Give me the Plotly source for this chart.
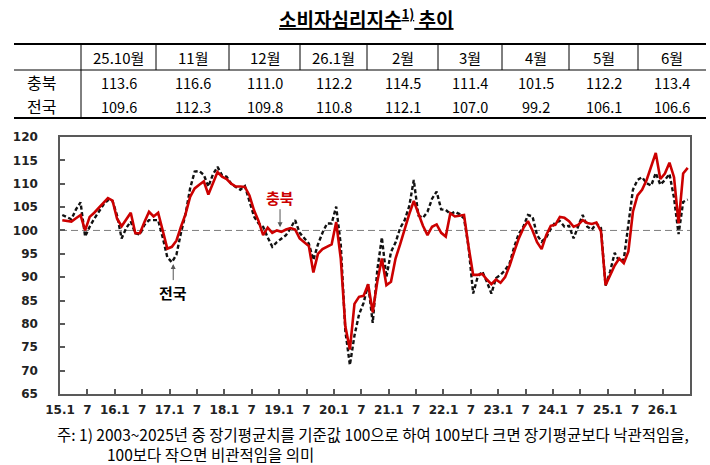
import plotly.graph_objects as go

# ---------------- data ----------------
chungbuk = [
    102.2, 102.1, 101.9, 102.6, 103.3, 100.0, 102.9, 103.8, 104.8, 106.0, 106.9, 106.4,   # 2015
    102.5, 100.9, 102.5, 103.8, 99.4, 99.4, 101.8, 104.0, 103.0, 103.8, 100.0, 96.1,      # 2016
    96.5, 97.8, 100.8, 103.5, 107.2, 109.0, 109.8, 110.5, 107.7, 110.3, 112.5, 111.5,     # 2017
    111.0, 110.0, 109.4, 109.4, 109.3, 107.5, 104.3, 102.0, 99.0, 100.6, 99.5, 100.0,     # 2018
    99.7, 100.2, 100.5, 100.2, 98.3, 97.5, 96.7, 91.0, 95.0, 96.0, 96.5, 97.0,            # 2019
    101.8, 94.0, 79.5, 74.5, 84.3, 85.8, 86.0, 88.5, 82.5, 89.0, 94.0, 88.3,              # 2020
    89.0, 94.0, 97.0, 100.3, 103.5, 106.3, 103.5, 101.0, 99.0, 100.8, 101.3, 99.5,        # 2021
    98.7, 103.7, 103.0, 103.2, 103.3, 96.5, 90.5, 90.5, 90.7, 89.5, 88.5, 89.5,           # 2022
    88.8, 90.0, 92.5, 95.5, 98.3, 100.5, 102.0, 100.0, 97.5, 96.0, 99.0, 101.0,           # 2023
    101.2, 102.9, 102.7, 102.0, 100.8, 101.2, 102.2, 101.6, 101.4, 101.7, 99.8, 88.3,     # 2024
    90.5, 92.5, 94.0, 93.0, 95.5, 104.0, 107.5, 108.7, 110.8, 113.6, 116.6, 111.0,        # 2025
    112.2, 114.5, 111.4, 101.5, 112.2, 113.4,                                             # 2026
]
national = [
    103.3, 102.8, 102.4, 104.5, 106.0, 98.7, 100.8, 102.5, 104.0, 105.5, 106.5, 106.3,    # 2015
    103.2, 98.3, 100.5, 101.9, 99.4, 99.1, 101.2, 102.2, 102.2, 102.2, 98.5, 94.3,        # 2016
    93.2, 94.8, 99.5, 103.5, 109.0, 112.6, 112.7, 111.9, 109.4, 112.0, 113.6, 111.8,      # 2017
    111.5, 110.0, 109.3, 108.7, 109.5, 106.3, 103.0, 101.5, 100.8, 98.5, 96.5, 97.5,      # 2018
    98.3, 99.0, 100.5, 102.2, 99.5, 98.4, 97.2, 93.7, 97.0, 99.5, 101.5, 101.5,           # 2019
    105.1, 97.0, 78.5, 71.2, 77.5, 82.0, 84.5, 88.5, 80.2, 91.5, 98.5, 90.0,              # 2020
    95.4, 97.4, 100.5, 102.2, 105.2, 110.8, 103.2, 102.7, 104.0, 106.8, 108.3, 104.5,     # 2021
    104.4, 103.5, 104.0, 103.5, 102.6, 96.4, 86.5, 90.1, 91.2, 89.0, 86.5, 89.8,          # 2022
    90.5, 91.5, 93.0, 96.5, 99.3, 100.8, 103.3, 103.0, 99.0, 97.6, 98.5, 100.3,           # 2023
    101.8, 102.0, 100.8, 101.0, 98.3, 100.9, 103.3, 100.8, 100.2, 101.5, 100.5, 88.2,     # 2024
    91.2, 95.2, 93.4, 93.8, 101.8, 108.7, 110.8, 111.4, 110.1, 109.6, 112.3, 109.8,       # 2025
    110.8, 112.1, 107.0, 99.2, 106.1, 106.6,                                              # 2026
]
tick_labels = ["15.1", "7", "16.1", "7", "17.1", "7", "18.1", "7", "19.1", "7", "20.1", "7",
               "21.1", "7", "22.1", "7", "23.1", "7", "24.1", "7", "25.1", "7", "26.1"]
table_months = ["25.10월", "11월", "12월", "26.1월", "2월", "3월", "4월", "5월", "6월"]
table_cb = [113.6, 116.6, 111.0, 112.2, 114.5, 111.4, 101.5, 112.2, 113.4]
table_nat = [109.6, 112.3, 109.8, 110.8, 112.1, 107.0, 99.2, 106.1, 106.6]
row_labels = ["충북", "전국"]
y_ticks = [65, 70, 75, 80, 85, 90, 95, 100, 105, 110, 115, 120]

x_idx = list(range(len(chungbuk)))
tickvals = [6 * i - 0.5 for i in range(len(tick_labels))]

# ---------------- figure ----------------
W, H = 710, 465
L, R, T, B = 60, 20, 137, 71
PW, PH = W - L - R, H - T - B


def px(x):
    return (x - L) / PW


def py(y):
    return (H - B - y) / PH


KR = "Noto Sans CJK KR"
AX = "DejaVu Sans"
red = "#cc0000"
axcol = "#595959"

fig = go.Figure()
fig.add_trace(go.Scatter(x=x_idx, y=national, mode="lines", name="전국",
                         line=dict(color="#111111", width=2.4, dash="4px,2.5px"),
                         hoverinfo="skip"))
fig.add_trace(go.Scatter(x=x_idx, y=chungbuk, mode="lines", name="충북",
                         line=dict(color=red, width=2.6), hoverinfo="skip"))

shapes = []
# reference line at 100
shapes.append(dict(type="line", xref="paper", yref="y", x0=0, x1=1, y0=100, y1=100,
                   line=dict(color="#7f7f7f", width=1, dash="7px,4px"), layer="below"))

# table lines
tl, tr = 14, 706
col_edges = [81, 156, 229, 300, 367, 438, 502, 569, 638, 706]
y_top, y_head, y_bot = 44, 70, 118
shapes.append(dict(type="line", xref="paper", yref="paper", x0=px(tl), x1=px(tr), y0=py(y_top), y1=py(y_top),
                   line=dict(color="black", width=2)))
shapes.append(dict(type="line", xref="paper", yref="paper", x0=px(tl), x1=px(tr), y0=py(y_head), y1=py(y_head),
                   line=dict(color="black", width=1)))
shapes.append(dict(type="line", xref="paper", yref="paper", x0=px(tl), x1=px(tr), y0=py(y_bot), y1=py(y_bot),
                   line=dict(color="black", width=2)))
shapes.append(dict(type="line", xref="paper", yref="paper", x0=px(col_edges[0]), x1=px(col_edges[0]),
                   y0=py(y_top), y1=py(y_bot), line=dict(color="black", width=1)))
for ce in col_edges[1:-1]:
    shapes.append(dict(type="line", xref="paper", yref="paper", x0=px(ce), x1=px(ce),
                       y0=py(y_top), y1=py(y_head), line=dict(color="black", width=1)))

ann = []
# title
ann.append(dict(text="<b><u>소비자심리지수<sup>1)</sup> 추이</u></b>", x=px(366), y=py(18),
                xref="paper", yref="paper", showarrow=False, xanchor="center", yanchor="middle",
                font=dict(family=KR, size=19, color="black")))
# table text
row_y = [57, 82, 106]
for i, m in enumerate(table_months):
    cx = (col_edges[i] + col_edges[i + 1]) / 2
    ann.append(dict(text=m, x=px(cx), y=py(row_y[0]), xref="paper", yref="paper", showarrow=False,
                    xanchor="center", yanchor="middle", font=dict(family=KR, size=15, color="black")))
    for r, vals in enumerate([table_cb, table_nat]):
        ann.append(dict(text=f"{vals[i]:.1f}", x=px(cx), y=py(row_y[r + 1]), xref="paper", yref="paper",
                        showarrow=False, xanchor="center", yanchor="middle",
                        font=dict(family=KR, size=14.5, color="black")))
for r, lab in enumerate(row_labels):
    ann.append(dict(text=lab, x=px(41), y=py(row_y[r + 1]), xref="paper", yref="paper", showarrow=False,
                    xanchor="center", yanchor="middle", font=dict(family=KR, size=16, color="black")))

# series labels with arrows (text sits at the arrow tail)
ann.append(dict(text="<b>충북</b>", x=47.7, y=100.7, xref="x", yref="y", showarrow=True, ax=0, ay=-30,
                arrowhead=2, arrowsize=1, arrowwidth=1, arrowcolor="#555555",
                font=dict(family=KR, size=15, color=red)))
ann.append(dict(text="<b>전국</b>", x=24.3, y=92.8, xref="x", yref="y", showarrow=True, ax=0, ay=28,
                arrowhead=2, arrowsize=1, arrowwidth=1, arrowcolor="#555555",
                font=dict(family=KR, size=15, color="black")))

# footnote (second line indented under "2003")
ann.append(dict(text="주: 1) 2003~2025년 중 장기평균치를 기준값 100으로 하여 100보다 크면 장기평균보다 낙관적임을,"
                     "<br>\u3000\u3000\u3000\u00a0100보다 작으면 비관적임을 의미",
                x=px(55), y=py(444), xref="paper", yref="paper", showarrow=False, xanchor="left",
                yanchor="middle", align="left", font=dict(family=KR, size=15.5, color="black")))

fig.update_layout(
    width=W, height=H, margin=dict(l=L, r=R, t=T, b=B, autoexpand=False),
    paper_bgcolor="white", plot_bgcolor="white", showlegend=False,
    shapes=shapes, annotations=ann,
    xaxis=dict(range=[-0.5, len(chungbuk) - 0.5], tickmode="array", tickvals=tickvals, ticktext=tick_labels,
               ticks="inside", ticklen=5, tickcolor=axcol, tickwidth=1.5, showgrid=False, zeroline=False,
               showline=True, linecolor=axcol, linewidth=1.5, mirror=True, ticklabelstandoff=4,
               tickfont=dict(family=AX, size=12, color="#222222", weight="bold")),
    yaxis=dict(range=[65, 120], tickmode="array", tickvals=y_ticks, ticks="inside", ticklen=5,
               tickcolor=axcol, tickwidth=1.5, showgrid=False, zeroline=False,
               showline=True, linecolor=axcol, linewidth=1.5, mirror=True, ticklabelstandoff=18,
               tickfont=dict(family=AX, size=12, color="#222222", weight="bold")),
)

fig.write_html("out.html")
